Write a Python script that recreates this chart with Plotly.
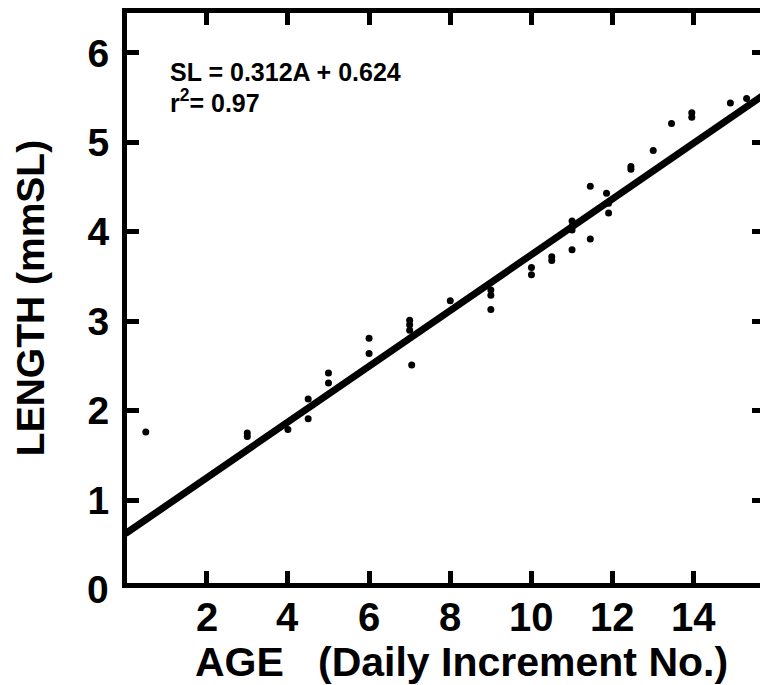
import plotly.graph_objects as go

# Data
age = [0.5, 3.0, 3.0, 4.0, 4.5, 4.5, 5.0, 5.0, 6.0, 6.0, 7.0, 7.0, 7.0, 7.05,
       8.0, 9.0, 9.0, 9.0, 10.0, 10.0, 10.5, 10.5, 11.0, 11.0, 11.0, 11.0,
       11.45, 11.45, 11.85, 11.9, 11.9, 12.45, 12.45, 13.0, 13.45, 13.95, 13.95,
       14.9, 15.3]
length = [1.76, 1.75, 1.71, 1.79, 2.13, 1.91, 2.42, 2.31, 2.81, 2.64, 3.01, 2.96,
          2.90, 2.51, 3.23, 3.35, 3.29, 3.13, 3.60, 3.52, 3.72, 3.68, 3.80, 4.12,
          4.06, 4.02, 3.92, 4.51, 4.43, 4.32, 4.21, 4.73, 4.70, 4.91, 5.21, 5.33,
          5.28, 5.44, 5.49]

slope = 0.312
intercept = 0.624
fit_x = [0.0, 16.0]
fit_y = [intercept + slope * v for v in fit_x]

x_ticks = [2, 4, 6, 8, 10, 12, 14]
x_tick_labels = ["2", "4", "6", "8", "10", "12", "14"]
y_ticks = [1, 2, 3, 4, 5, 6]

x_range = [0.037, 15.63]
y_range = [0.072, 6.447]

x_title = "AGE\u00a0\u00a0\u00a0(Daily Increment No.)"
y_title = "LENGTH (mmSL)"

FONT = "Liberation Sans, Arial, Helvetica, sans-serif"

fig = go.Figure()
fig.add_trace(go.Scatter(x=fit_x, y=fit_y, mode="lines",
                         line=dict(color="black", width=7), showlegend=False,
                         hoverinfo="skip"))
fig.add_trace(go.Scatter(x=age, y=length, mode="markers",
                         marker=dict(color="black", size=7), showlegend=False))
# invisible trace to draw right-side ticks
fig.add_trace(go.Scatter(x=[None], y=[None], yaxis="y2", showlegend=False))

annotations = [
    dict(text="SL = 0.312A + 0.624", xref="paper", yref="paper",
         x=0.0648, y=0.8965, xanchor="left", yanchor="middle",
         showarrow=False, font=dict(size=25, family=FONT, weight="bold")),
    dict(text="r<sup>2</sup>= 0.97", xref="paper", yref="paper",
         x=0.0648, y=0.846, xanchor="left", yanchor="middle",
         showarrow=False, font=dict(size=25, family=FONT, weight="bold")),
    dict(text="0", xref="paper", yref="paper", x=0, y=-0.0112,
         xanchor="right", yanchor="middle", xshift=-16, showarrow=False,
         font=dict(size=39, family=FONT, weight="bold")),
    dict(text=x_title, xref="paper", yref="paper", x=0.529, y=-0.1386,
         xanchor="center", yanchor="middle", showarrow=False, borderpad=0,
         font=dict(size=41, family=FONT, weight="bold")),
]
for xv, lab in zip(x_ticks, x_tick_labels):
    annotations.append(dict(text=lab, xref="x", yref="paper", x=xv, y=-0.0596,
                            xanchor="center", yanchor="middle", showarrow=False,
                            font=dict(size=40, family=FONT, weight="bold")))

fig.update_layout(
    width=760, height=685,
    margin=dict(l=127, r=0, t=13, b=102),
    plot_bgcolor="white", paper_bgcolor="white",
    font=dict(family=FONT, color="black", weight="bold"),
    xaxis=dict(range=x_range, tickvals=x_ticks, ticks="inside", ticklen=12,
               tickwidth=5, tickcolor="black", showline=True, linewidth=5,
               linecolor="black", mirror="ticks", showgrid=False, zeroline=False,
               automargin=False, showticklabels=False),
    yaxis=dict(range=y_range, tickvals=y_ticks, ticks="inside", ticklen=12,
               tickwidth=5, tickcolor="black", showline=True, linewidth=5,
               linecolor="black", showgrid=False, zeroline=False,
               automargin=False, ticklabelstandoff=5,
               tickfont=dict(size=39, family=FONT, weight="bold"),
               title=dict(text=y_title,
                          font=dict(size=39, family=FONT, weight="bold"),
                          standoff=32)),
    yaxis2=dict(range=y_range, overlaying="y", side="right", tickvals=y_ticks,
                ticks="inside", ticklen=8, tickwidth=5, tickcolor="black",
                showticklabels=False, showline=False, showgrid=False,
                zeroline=False, automargin=False),
    annotations=annotations,
)

fig.write_html("out.html", config={"displayModeBar": False},
               post_script="document.body.style.margin='0';document.body.style.overflow='hidden';")
